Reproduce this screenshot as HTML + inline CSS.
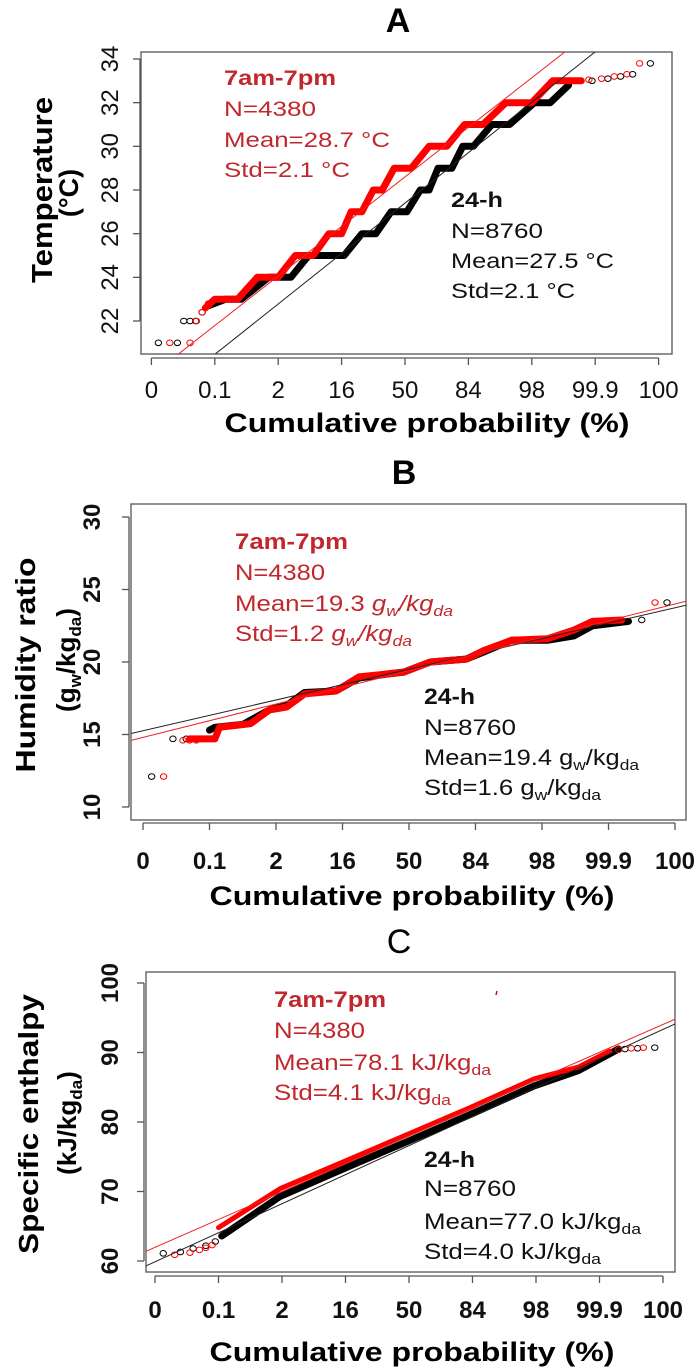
<!DOCTYPE html>
<html><head><meta charset="utf-8"><style>
html,body{margin:0;padding:0;background:#fff;}
svg{display:block;font-family:"Liberation Sans",sans-serif;}
</style></head><body>
<svg id="fig" width="699" height="1371" viewBox="0 0 699 1371" xmlns="http://www.w3.org/2000/svg"></svg>
<script>
// ---- shared axis data ----
const xTickZ = [-4,-3,-2,-1,0,1,2,3,4];
const xTickLabels = ['0','0.1','2','16','50','84','98','99.9','100'];

// ---- Panel A: temperature ----
const aYTicks = [22,24,26,28,30,32,34];
const aRedZ = [-3.15,-3.0,-2.64,-2.33,-2.0,-1.73,-1.45,-1.2,-1.0,-0.85,-0.68,-0.5,-0.36,-0.17,0.1,0.38,0.66,0.94,1.23,1.59,2.0,2.33,2.78];
const aRedV = [22.6,23,23,24,24,25,25,26,26,27,27,28,28,29,29,30,30,31,31,32,32,33,33];
const aBlkZ = [-3.1,-2.83,-2.58,-2.15,-1.8,-1.52,-0.96,-0.68,-0.46,-0.22,0.03,0.24,0.38,0.52,0.74,0.91,1.08,1.37,1.65,2.04,2.29,2.58];
const aBlkV = [22.7,23,23,24,24,25,25,26,26,27,27,28,28,29,29,30,30,31,31,32,32,32.8];
const aRedPtZ = [-3.71,-3.39,-3.29,-3.2,-3.1,2.9,3.1,3.3,3.5,3.7];
const aRedPtV = [21,21,22,22.4,22.8,33.05,33.1,33.2,33.3,33.8];
const aBlkPtZ = [-3.89,-3.59,-3.49,-3.39,-3.3,-3.2,-3.05,2.7,2.95,3.2,3.4,3.59,3.87];
const aBlkPtV = [21,21,22,22,22,22.4,22.8,33,33,33.1,33.2,33.3,33.8];
const aFitRed = [28.6,2.27];   // intercept, slope
const aFitBlk = [27.4,2.31];

// ---- Panel B: humidity ratio ----
const bYTicks = [10,15,20,25,30];
const bRedZ = [-3.3,-2.92,-2.85,-2.38,-2.1,-1.84,-1.57,-1.1,-0.75,-0.28,-0.08,0.32,0.86,1.13,1.54,2.08,2.48,2.76,3.2];
const bRedV = [14.7,14.7,15.5,15.75,16.7,16.9,17.8,18.0,18.97,19.2,19.3,20.0,20.2,20.8,21.5,21.6,22.2,22.8,22.9];
const bBlkZ = [-3.0,-2.92,-2.5,-2.1,-1.84,-1.57,-1.1,-0.75,-0.28,-0.08,0.32,0.86,1.13,1.54,2.08,2.48,2.76,3.3];
const bBlkV = [15.3,15.5,15.7,16.7,17.0,17.9,18.0,18.9,19.2,19.3,20.0,20.2,20.7,21.5,21.5,21.8,22.5,22.8];
const bRedPtZ = [-3.69,-3.4,-3.3,-3.2,3.7];
const bRedPtV = [12.1,14.6,14.6,14.6,24.1];
const bBlkPtZ = [-3.87,-3.55,-3.35,3.5,3.88];
const bBlkPtV = [12.1,14.7,14.7,22.9,24.1];
const bFitRed = [19.4,1.15];
const bFitBlk = [19.5,1.06];

// ---- Panel C: specific enthalpy ----
const cYTicks = [60,70,80,90,100];
const cRedZ = [-3.0,-2.03,-1.0,0,0.97,1.97,2.67,3.16];
const cRedV = [64.8,70.4,74.4,78.3,82.1,86.2,87.9,90.2];
const cBlkZ = [-2.95,-2.03,-1.0,0,0.97,1.97,2.67,3.3];
const cBlkV = [63.6,69.3,73.4,77.3,81.1,85.2,87.4,90.5];
const cRedPtZ = [-3.69,-3.45,-3.3,-3.2,-3.1,3.3,3.5,3.69];
const cRedPtV = [60.9,61.2,61.6,61.9,62.3,90.4,90.6,90.7];
const cBlkPtZ = [-3.87,-3.6,-3.4,-3.2,-3.05,3.4,3.6,3.87];
const cBlkPtV = [61.1,61.3,61.8,62.2,62.8,90.5,90.6,90.7];
const cFitRed = [78.0,4.01];
const cFitBlk = [76.6,4.18];

const NS = 'http://www.w3.org/2000/svg';
const svg = document.getElementById('fig');
function mk(tag, attrs, parent){
  const e = document.createElementNS(NS, tag);
  for (const k in attrs) e.setAttribute(k, attrs[k]);
  (parent||svg).appendChild(e);
  return e;
}

function panel(P){
  const g = mk('g', {});
  
  
  const X = z => P.x0 + z*P.xs;
  const Y = v => P.yA + (v - P.vA) * (P.yB - P.yA) / (P.vB - P.vA);
  const box = mk('rect', {x:P.bx0, y:P.by0, width:P.bx1-P.bx0, height:P.by1-P.by0, fill:'none', stroke:'#555', 'stroke-width':1.3}, g);
  
  
  const cid = P.name + '-clip';
  const cp = mk('clipPath', {id:cid}, g);
  mk('rect', {x:P.bx0, y:P.by0, width:P.bx1-P.bx0, height:P.by1-P.by0}, cp);
  const zl = (P.bx0 - P.x0)/P.xs, zr = (P.bx1 - P.x0)/P.xs;
  function series(zs, vs, pz, pv, color, nm, lw){
    const pts = zs.map((z,i)=> X(z).toFixed(1)+','+Y(vs[i]).toFixed(1)).join(' ');
    const pl = mk('polyline', {points:pts, fill:'none', stroke:color, 'stroke-width':lw, 'stroke-linejoin':'round', 'stroke-linecap':'round'}, g);
    
    
    pz.forEach((z,i)=>{
      const c = mk('ellipse', {cx:X(z), cy:Y(pv[i]), rx:3.2, ry:2.8, fill:'none', stroke:color, 'stroke-width':1}, g);
      
      
    });
  }
  series(P.blkZ, P.blkV, P.blkPZ, P.blkPV, '#000', 'series-24h', P.lw);
  series(P.redZ, P.redV, P.redPZ, P.redPV, '#f00', 'series-7am-7pm', P.lwR);
  [[P.fitBlk,'#222'],[P.fitRed,'#f02020']].forEach(([f,c],i)=>{
    const l = mk('line', {x1:X(zl), y1:Y(f[0]+f[1]*zl), x2:X(zr), y2:Y(f[0]+f[1]*zr), stroke:c, 'stroke-width':1, 'clip-path':'url(#'+cid+')'}, g);
    
    
  });
  const xa = mk('line', {x1:X(xTickZ[0]), y1:P.xaxY, x2:X(xTickZ[xTickZ.length-1]), y2:P.xaxY, stroke:'#555', 'stroke-width':1.3}, g);
  
  
  xTickZ.forEach((z,i)=>{
    mk('line', {x1:X(z), y1:P.xaxY, x2:X(z), y2:P.xaxY+7, stroke:'#555', 'stroke-width':1.3}, g);
    const t = mk('text', {x:X(z), y:P.xlabY, 'text-anchor':'middle', 'font-size':24, 'font-weight':P.tickBold?'bold':'normal', fill:'#111'}, g);
    t.textContent = xTickLabels[i];
    
    
  });
  const ya = mk('line', {x1:P.yaxX, y1:Y(P.yTicks[0]), x2:P.yaxX, y2:Y(P.yTicks[P.yTicks.length-1]), stroke:'#555', 'stroke-width':1.3}, g);
  
  
  P.yTicks.forEach(v=>{
    mk('line', {x1:P.yaxX-7, y1:Y(v), x2:P.yaxX, y2:Y(v), stroke:'#555', 'stroke-width':1.3}, g);
    const t = mk('text', {x:0, y:0, 'text-anchor':'middle', 'font-size':24, 'font-weight':P.tickBold?'bold':'normal', fill:'#111', transform:'translate('+(P.ylabX)+','+Y(v)+') rotate(-90)'}, g);
    t.textContent = String(v);
    
    
  });
}

panel({name:'panel-a', x0:405, xs:63.4, yA:321, vA:22, yB:59, vB:34, bx0:141, bx1:672, by0:52, by1:354,
  xaxY:358, xlabY:398, yaxX:140, ylabX:118, lw:7, lwR:7, tickBold:false, yTicks:aYTicks,
  redZ:aRedZ, redV:aRedV, blkZ:aBlkZ, blkV:aBlkV, redPZ:aRedPtZ, redPV:aRedPtV, blkPZ:aBlkPtZ, blkPV:aBlkPtV,
  fitRed:aFitRed, fitBlk:aFitBlk});
panel({name:'panel-b', x0:409, xs:66.5, yA:807, vA:10, yB:517, vB:30, bx0:131, bx1:686, by0:504, by1:820,
  xaxY:823, xlabY:869, yaxX:129, ylabX:100, lw:7, lwR:7, tickBold:true, yTicks:bYTicks,
  redZ:bRedZ, redV:bRedV, blkZ:bBlkZ, blkV:bBlkV, redPZ:bRedPtZ, redPV:bRedPtV, blkPZ:bBlkPtZ, blkPV:bBlkPtV,
  fitRed:bFitRed, fitBlk:bFitBlk});
panel({name:'panel-c', x0:409, xs:63.5, yA:1261, vA:60, yB:983, vB:100, bx0:146, bx1:675, by0:972, by1:1272,
  xaxY:1276, xlabY:1318, yaxX:144, ylabX:118, lw:7, lwR:5, tickBold:true, yTicks:cYTicks,
  redZ:cRedZ, redV:cRedV, blkZ:cBlkZ, blkV:cBlkV, redPZ:cRedPtZ, redPV:cRedPtV, blkPZ:cBlkPtZ, blkPV:cBlkPtV,
  fitRed:cFitRed, fitBlk:cFitBlk});
</script>

<svg width="699" height="1371" viewBox="0 0 699 1371" xmlns="http://www.w3.org/2000/svg" style="position:absolute;left:0;top:0;font-family:'Liberation Sans',sans-serif;">
  <text x="398" y="32" text-anchor="middle" font-size="34" font-weight="bold">A</text>
  <text x="404" y="484" text-anchor="middle" font-size="34" font-weight="bold">B</text>
  <text x="399" y="953" text-anchor="middle" font-size="34">C</text>

  <text x="427" y="432" text-anchor="middle" font-size="27" font-weight="bold" textLength="405" lengthAdjust="spacingAndGlyphs">Cumulative probability (%)</text>
  <text x="412" y="905" text-anchor="middle" font-size="27" font-weight="bold" textLength="405" lengthAdjust="spacingAndGlyphs">Cumulative probability (%)</text>
  <text x="412" y="1361" text-anchor="middle" font-size="27" font-weight="bold" textLength="405" lengthAdjust="spacingAndGlyphs">Cumulative probability (%)</text>

  <text transform="translate(52,190) rotate(-90)" text-anchor="middle" font-size="29" font-weight="bold" textLength="186" lengthAdjust="spacingAndGlyphs">Temperature</text>
  <text transform="translate(78,193) rotate(-90)" text-anchor="middle" font-size="27" font-weight="bold">(°C)</text>
  <text transform="translate(35,665) rotate(-90)" text-anchor="middle" font-size="28" font-weight="bold" textLength="215" lengthAdjust="spacingAndGlyphs">Humidity ratio</text>
  <text transform="translate(75,660) rotate(-90)" text-anchor="middle" font-size="26" font-weight="bold">(g<tspan font-size="17" dy="6">w</tspan><tspan dy="-6">/kg</tspan><tspan font-size="17" dy="6">da</tspan><tspan dy="-6">)</tspan></text>
  <text transform="translate(38,1124) rotate(-90)" text-anchor="middle" font-size="28" font-weight="bold" textLength="260" lengthAdjust="spacingAndGlyphs">Specific enthalpy</text>
  <text transform="translate(76,1123) rotate(-90)" text-anchor="middle" font-size="26" font-weight="bold">(kJ/kg<tspan font-size="17" dy="6">da</tspan><tspan dy="-6">)</tspan></text>

  <g fill="#c0282d" font-size="21">
    <text x="224" y="85" font-weight="bold" textLength="112" lengthAdjust="spacingAndGlyphs">7am-7pm</text>
    <text x="224" y="116" textLength="92" lengthAdjust="spacingAndGlyphs">N=4380</text>
    <text x="224" y="147" textLength="166" lengthAdjust="spacingAndGlyphs">Mean=28.7 °C</text>
    <text x="224" y="177" textLength="126" lengthAdjust="spacingAndGlyphs">Std=2.1 °C</text>
  </g>
  <g fill="#111" font-size="21">
    <text x="451" y="207" font-weight="bold" textLength="52" lengthAdjust="spacingAndGlyphs">24-h</text>
    <text x="451" y="238" textLength="92" lengthAdjust="spacingAndGlyphs">N=8760</text>
    <text x="451" y="268" textLength="163" lengthAdjust="spacingAndGlyphs">Mean=27.5 °C</text>
    <text x="451" y="298" textLength="124" lengthAdjust="spacingAndGlyphs">Std=2.1 °C</text>
  </g>

  <g fill="#c0282d" font-size="22">
    <text x="235" y="549" font-weight="bold" textLength="113" lengthAdjust="spacingAndGlyphs">7am-7pm</text>
    <text x="235" y="580" textLength="90" lengthAdjust="spacingAndGlyphs">N=4380</text>
    <text x="235" y="611" textLength="218" lengthAdjust="spacingAndGlyphs">Mean=19.3 <tspan font-style="italic">g<tspan font-size="15" dy="5">w</tspan><tspan dy="-5">/kg</tspan><tspan font-size="15" dy="5">da</tspan></tspan></text>
    <text x="235" y="641" textLength="177" lengthAdjust="spacingAndGlyphs">Std=1.2 <tspan font-style="italic">g<tspan font-size="15" dy="5">w</tspan><tspan dy="-5">/kg</tspan><tspan font-size="15" dy="5">da</tspan></tspan></text>
  </g>
  <g fill="#111" font-size="22">
    <text x="424" y="704" font-weight="bold" textLength="51" lengthAdjust="spacingAndGlyphs">24-h</text>
    <text x="424" y="735" textLength="92" lengthAdjust="spacingAndGlyphs">N=8760</text>
    <text x="424" y="765" textLength="215" lengthAdjust="spacingAndGlyphs">Mean=19.4 g<tspan font-size="15" dy="5">w</tspan><tspan dy="-5">/kg</tspan><tspan font-size="15" dy="5">da</tspan></text>
    <text x="424" y="795" textLength="177" lengthAdjust="spacingAndGlyphs">Std=1.6 g<tspan font-size="15" dy="5">w</tspan><tspan dy="-5">/kg</tspan><tspan font-size="15" dy="5">da</tspan></text>
  </g>

  <g fill="#c0282d" font-size="22">
    <text x="274" y="1007" font-weight="bold" textLength="112" lengthAdjust="spacingAndGlyphs">7am-7pm</text>
    <text x="274" y="1038" textLength="91" lengthAdjust="spacingAndGlyphs">N=4380</text>
    <text x="274" y="1070" textLength="217" lengthAdjust="spacingAndGlyphs">Mean=78.1 kJ/kg<tspan font-size="15" dy="5">da</tspan></text>
    <text x="274" y="1100" textLength="177" lengthAdjust="spacingAndGlyphs">Std=4.1 kJ/kg<tspan font-size="15" dy="5">da</tspan></text>
  </g>
  <line x1="497" y1="991" x2="496" y2="995" stroke="#d00" stroke-width="1.5"/>
  <g fill="#111" font-size="22">
    <text x="424" y="1167" font-weight="bold" textLength="51" lengthAdjust="spacingAndGlyphs">24-h</text>
    <text x="424" y="1196" textLength="92" lengthAdjust="spacingAndGlyphs">N=8760</text>
    <text x="424" y="1229" textLength="217" lengthAdjust="spacingAndGlyphs">Mean=77.0 kJ/kg<tspan font-size="15" dy="5">da</tspan></text>
    <text x="424" y="1259" textLength="177" lengthAdjust="spacingAndGlyphs">Std=4.0 kJ/kg<tspan font-size="15" dy="5">da</tspan></text>
  </g>
</svg>
</body></html>
